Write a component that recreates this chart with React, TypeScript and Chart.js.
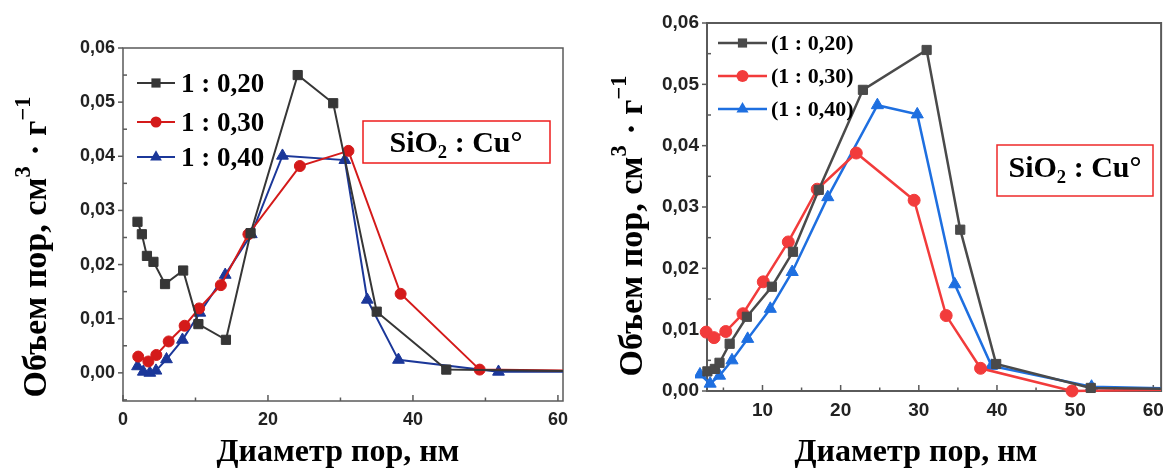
import React, { useEffect, useRef } from 'react';
import { Chart, registerables } from 'chart.js';

Chart.register(...registerables);

// ---------------- data: left panel ----------------
const L_BLACK_X = [2.0, 2.6, 3.3, 4.2, 5.8, 8.3, 10.4, 14.2, 17.6, 24.1, 29.0, 35.0, 44.6, 65];
const L_BLACK_Y = [0.0279, 0.0256, 0.0216, 0.0205, 0.0164, 0.0189, 0.009, 0.0061, 0.0258, 0.055, 0.0498, 0.0113, 0.0006, 0.0003];
const L_RED_X = [2.1, 3.5, 4.6, 6.3, 8.5, 10.5, 13.5, 17.3, 24.4, 31.1, 38.3, 49.2, 65];
const L_RED_Y = [0.003, 0.0021, 0.0033, 0.0058, 0.0087, 0.0119, 0.0162, 0.0256, 0.0382, 0.041, 0.0146, 0.0006, 0.0004];
const L_BLUE_X = [2.0, 2.8, 3.7, 4.55, 6.0, 8.2, 10.6, 14.1, 17.7, 22.0, 30.6, 33.7, 38.0, 51.8, 65];
const L_BLUE_Y = [0.0012, 0.0002, 0.0, 0.0004, 0.0025, 0.0061, 0.0111, 0.0181, 0.0256, 0.0401, 0.0393, 0.0135, 0.0024, 0.0002, 0.0002];

// ---------------- data: right panel ----------------
const R_BLACK_X = [2.95, 3.9, 4.5, 5.8, 8.0, 11.2, 13.9, 17.2, 22.85, 31.0, 35.3, 39.9, 52.0, 66];
const R_BLACK_Y = [0.0032, 0.0036, 0.0046, 0.0077, 0.0121, 0.017, 0.0227, 0.0328, 0.0491, 0.0556, 0.0263, 0.0044, 0.0005, 0.0003];
const R_RED_X = [2.8, 3.8, 5.3, 7.5, 10.1, 13.3, 17.0, 22.0, 29.4, 33.5, 37.9, 49.6, 66];
const R_RED_Y = [0.0096, 0.0087, 0.0097, 0.0126, 0.0178, 0.0243, 0.0329, 0.0388, 0.0311, 0.0123, 0.0037, 0.0, 0.0003];
const R_BLUE_X = [2.0, 3.3, 4.5, 6.1, 8.1, 11.0, 13.8, 18.35, 24.7, 29.8, 34.6, 39.3, 52.1, 66];
const R_BLUE_Y = [0.0027, 0.0012, 0.0025, 0.005, 0.0085, 0.0134, 0.0194, 0.0316, 0.0466, 0.0451, 0.0174, 0.0041, 0.0007, 0.0003];

// ---------------- tick labels ----------------
const L_X_TICKS = [0, 20, 40, 60];
const R_X_TICKS = [10, 20, 30, 40, 50, 60];
const Y_TICKS = [0, 0.01, 0.02, 0.03, 0.04, 0.05, 0.06];

// ---------------- text ----------------
const LEFT_LABELS = ['1 : 0,20', '1 : 0,30', '1 : 0,40'];
const RIGHT_LABELS = ['(1 : 0,20)', '(1 : 0,30)', '(1 : 0,40)'];
const X_TITLE = 'Диаметр пор, нм';
const Y_TITLE_PARTS: [string, boolean][] = [['Объем пор, см', false], ['3', true], [' · г', false], ['−1', true]];
const BOX_PARTS: [string, boolean][] = [['SiO', false], ['2', true], [' : Cu°', false]];
const POINT_STYLES = ['rect', 'circle', 'triangle'];

const SERIF = '"Liberation Serif", "Times New Roman", serif';
const SANS = '"Liberation Sans", Arial, sans-serif';

const isMult = (v: number, step: number) => Math.abs(v / step - Math.round(v / step)) < 1e-6;
const fmtY = (v: number) => v.toFixed(2).replace('.', ',');

function drawMarker(ctx: CanvasRenderingContext2D, style: string, x: number, y: number, r: number, color: string) {
  ctx.fillStyle = color;
  ctx.beginPath();
  if (style === 'circle') ctx.arc(x, y, r, 0, Math.PI * 2);
  else if (style === 'rect') {
    const s = r * Math.SQRT1_2;
    ctx.rect(x - s, y - s, 2 * s, 2 * s);
  } else {
    let rad = 0;
    ctx.moveTo(x + Math.sin(rad) * r, y - Math.cos(rad) * r);
    rad += (2 * Math.PI) / 3;
    ctx.lineTo(x + Math.sin(rad) * r, y - Math.cos(rad) * r);
    rad += (2 * Math.PI) / 3;
    ctx.lineTo(x + Math.sin(rad) * r, y - Math.cos(rad) * r);
    ctx.closePath();
  }
  ctx.fill();
}

function drawParts(ctx: CanvasRenderingContext2D, parts: [string, boolean][], size: number, cx: number, baseY: number, supMode: 'sup' | 'sub') {
  const small = size * (supMode === 'sup' ? 0.66 : 0.62);
  const widths = parts.map(([t, s]) => {
    ctx.font = `bold ${s ? small : size}px ${SERIF}`;
    return ctx.measureText(t).width;
  });
  const total = widths.reduce((a, b) => a + b, 0);
  let x = cx - total / 2;
  ctx.textAlign = 'left';
  ctx.textBaseline = 'alphabetic';
  parts.forEach(([t, s], i) => {
    ctx.font = `bold ${s ? small : size}px ${SERIF}`;
    const dy = s ? (supMode === 'sup' ? -size * 0.48 : size * 0.2) : 0;
    ctx.fillText(t, x, baseY + dy);
    x += widths[i] + (s && supMode === 'sup' ? 2 : 0);
  });
}

interface Panel {
  offsetX: number;
  W: number;
  H: number;
  area: { l: number; t: number; r: number; b: number };
  xMin: number;
  xMax: number;
  yMin: number;
  yMax: number;
  xMajor: number;
  xMinor: number;
  xTicks: number[];
  series: { xs: number[]; ys: number[]; color: string; radius: number }[];
  labels: string[];
  lineWidth: number;
  tickFont: number;
  frameWidth: number;
  legend: { x0: number; x1: number; tx: number; rows: number[]; font: number };
  box: { l: number; t: number; r: number; b: number; cx: number; base: number; font: number; lw: number; color: string };
  yTitle: { x: number; cy: number; font: number };
  xTitle: { cx: number; base: number; font: number };
}

const LEFT: Panel = {
  offsetX: 0,
  W: 580,
  H: 470,
  area: { l: 123, t: 48, r: 563, b: 401 },
  xMin: 0,
  xMax: 60.7,
  yMin: -0.0052,
  yMax: 0.06,
  xMajor: 20,
  xMinor: 10,
  xTicks: L_X_TICKS,
  series: [
    { xs: L_BLACK_X, ys: L_BLACK_Y, color: '#363636', radius: 6.5 },
    { xs: L_RED_X, ys: L_RED_Y, color: '#d41a1a', radius: 5.5 },
    { xs: L_BLUE_X, ys: L_BLUE_Y, color: '#1b3799', radius: 6.8 },
  ],
  labels: LEFT_LABELS,
  lineWidth: 2,
  tickFont: 18,
  frameWidth: 1.5,
  legend: { x0: 137, x1: 175, tx: 181, rows: [83, 122, 157], font: 27 },
  box: { l: 363, t: 121, r: 550, b: 163, cx: 456, base: 151.5, font: 30, lw: 1.5, color: '#ee1c1c' },
  yTitle: { x: 46, cy: 248, font: 34 },
  xTitle: { cx: 338, base: 461, font: 32 },
};

const RIGHT: Panel = {
  offsetX: 580,
  W: 592,
  H: 470,
  area: { l: 707, t: 23, r: 1167, b: 391 },
  xMin: 2.9,
  xMax: 61,
  yMin: 0,
  yMax: 0.06,
  xMajor: 10,
  xMinor: 5,
  xTicks: R_X_TICKS,
  series: [
    { xs: R_BLACK_X, ys: R_BLACK_Y, color: '#4a4a4a', radius: 6.5 },
    { xs: R_RED_X, ys: R_RED_Y, color: '#f23b3b', radius: 6 },
    { xs: R_BLUE_X, ys: R_BLUE_Y, color: '#1e6fe0', radius: 7 },
  ],
  labels: RIGHT_LABELS,
  lineWidth: 2.5,
  tickFont: 19,
  frameWidth: 2,
  legend: { x0: 718, x1: 767, tx: 771, rows: [43, 76, 109], font: 22 },
  box: { l: 997, t: 145, r: 1153, b: 196, cx: 1075, base: 176.5, font: 30, lw: 1.5, color: '#ee2a2a' },
  yTitle: { x: 642, cy: 227, font: 34 },
  xTitle: { cx: 916, base: 461, font: 32 },
};

function makeDecor(p: Panel) {
  return {
    id: 'decor',
    beforeDatasetsDraw(chart: any) {
      const ctx: CanvasRenderingContext2D = chart.ctx;
      const { left, top, right, bottom } = chart.chartArea;
      const xs = chart.scales.x;
      const ys = chart.scales.y;
      ctx.save();
      ctx.strokeStyle = '#5a5a5a';
      ctx.lineWidth = p.frameWidth;
      ctx.strokeRect(left, top, right - left, bottom - top);
      ctx.lineWidth = 1.5;
      // x ticks (inside)
      const start = Math.ceil(p.xMin / p.xMinor) * p.xMinor;
      for (let v = start; v <= p.xMax + 1e-9; v += p.xMinor) {
        const px = xs.getPixelForValue(v);
        const len = isMult(v, p.xMajor) ? 6 : 3.5;
        ctx.beginPath();
        ctx.moveTo(px, bottom);
        ctx.lineTo(px, bottom - len);
        ctx.stroke();
      }
      // y ticks: major outside, minor inside
      for (let i = Math.ceil(p.yMin / 0.005); i * 0.005 <= p.yMax + 1e-9; i++) {
        const v = i * 0.005;
        const py = ys.getPixelForValue(v);
        ctx.beginPath();
        if (i % 2 === 0) {
          ctx.moveTo(left, py);
          ctx.lineTo(left - 5, py);
        } else {
          ctx.moveTo(left, py);
          ctx.lineTo(left + 4, py);
        }
        ctx.stroke();
      }
      ctx.restore();
    },
    afterDraw(chart: any) {
      const ctx: CanvasRenderingContext2D = chart.ctx;
      ctx.save();
      ctx.translate(-p.offsetX, 0);
      // legend
      p.series.forEach((s, i) => {
        const y = p.legend.rows[i];
        ctx.strokeStyle = s.color;
        ctx.lineWidth = p.lineWidth;
        ctx.beginPath();
        ctx.moveTo(p.legend.x0, y);
        ctx.lineTo(p.legend.x1, y);
        ctx.stroke();
        drawMarker(ctx, POINT_STYLES[i], (p.legend.x0 + p.legend.x1) / 2, y, s.radius, s.color);
        ctx.fillStyle = '#000';
        ctx.font = `bold ${p.legend.font}px ${SERIF}`;
        ctx.textAlign = 'left';
        ctx.textBaseline = 'alphabetic';
        ctx.fillText(p.labels[i], p.legend.tx, y + p.legend.font * 0.33);
      });
      // annotation box
      const b = p.box;
      ctx.fillStyle = '#fff';
      ctx.fillRect(b.l, b.t, b.r - b.l, b.b - b.t);
      ctx.strokeStyle = b.color;
      ctx.lineWidth = b.lw;
      ctx.strokeRect(b.l, b.t, b.r - b.l, b.b - b.t);
      ctx.fillStyle = '#000';
      drawParts(ctx, BOX_PARTS, b.font, b.cx, b.base, 'sub');
      // x title
      ctx.fillStyle = '#000';
      ctx.font = `bold ${p.xTitle.font}px ${SERIF}`;
      ctx.textAlign = 'center';
      ctx.textBaseline = 'alphabetic';
      ctx.fillText(X_TITLE, p.xTitle.cx, p.xTitle.base);
      // y title
      ctx.save();
      ctx.translate(p.yTitle.x, p.yTitle.cy);
      ctx.rotate(-Math.PI / 2);
      drawParts(ctx, Y_TITLE_PARTS, p.yTitle.font, 0, 0, 'sup');
      ctx.restore();
      ctx.restore();
    },
  };
}

function PanelChart({ p }: { p: Panel }) {
  const ref = useRef<HTMLCanvasElement | null>(null);
  useEffect(() => {
    if (!ref.current) return;
    const a = { l: p.area.l - p.offsetX, t: p.area.t, r: p.area.r - p.offsetX, b: p.area.b };
    const chart = new Chart(ref.current, {
      type: 'line',
      data: {
        datasets: p.series.map((s, i) => ({
          label: p.labels[i],
          data: s.xs.map((x, j) => ({ x, y: s.ys[j] })),
          borderColor: s.color,
          backgroundColor: s.color,
          pointBackgroundColor: s.color,
          pointBorderColor: s.color,
          pointBorderWidth: 1,
          pointStyle: POINT_STYLES[i],
          pointRadius: s.radius,
          borderWidth: p.lineWidth,
          tension: 0,
          clip: { left: 12, top: 12, right: 0, bottom: 12 },
        })) as any,
      },
      options: {
        responsive: false,
        animation: false,
        devicePixelRatio: 1,
        events: [],
        layout: { padding: { left: 0, top: a.t, right: p.W - a.r, bottom: 0 } },
        plugins: { legend: { display: false }, tooltip: { enabled: false } },
        scales: {
          x: {
            type: 'linear',
            min: p.xMin,
            max: p.xMax,
            grid: { display: false, drawTicks: false },
            border: { display: false },
            afterBuildTicks: (s: any) => {
              s.ticks = p.xTicks.map((v) => ({ value: v }));
            },
            ticks: {
              autoSkip: false,
              maxRotation: 0,
              padding: 8,
              color: '#222',
              font: { family: SANS, size: p.tickFont, weight: 'bold' },
              callback: (v: any) => String(Math.round(Number(v))),
            },
            afterFit: (s: any) => {
              s.height = p.H - a.b;
            },
          },
          y: {
            type: 'linear',
            min: p.yMin,
            max: p.yMax,
            grid: { display: false, drawTicks: false },
            border: { display: false },
            afterBuildTicks: (s: any) => {
              s.ticks = Y_TICKS.map((v) => ({ value: v }));
            },
            ticks: {
              autoSkip: false,
              padding: 8,
              color: '#222',
              font: { family: SANS, size: p.tickFont, weight: 'bold' },
              callback: (v: any) => fmtY(Number(v)),
            },
            afterFit: (s: any) => {
              s.width = a.l;
            },
          },
        },
      },
      plugins: [makeDecor(p)],
    });
    return () => chart.destroy();
  }, [p]);
  return (
    <canvas
      ref={ref}
      width={p.W}
      height={p.H}
      style={{ position: 'absolute', left: p.offsetX, top: 0, width: p.W, height: p.H }}
    />
  );
}

export default function App() {
  return (
    <div style={{ position: 'absolute', left: 0, top: 0, width: 1172, height: 470, background: '#fff' }}>
      <PanelChart p={LEFT} />
      <PanelChart p={RIGHT} />
    </div>
  );
}
